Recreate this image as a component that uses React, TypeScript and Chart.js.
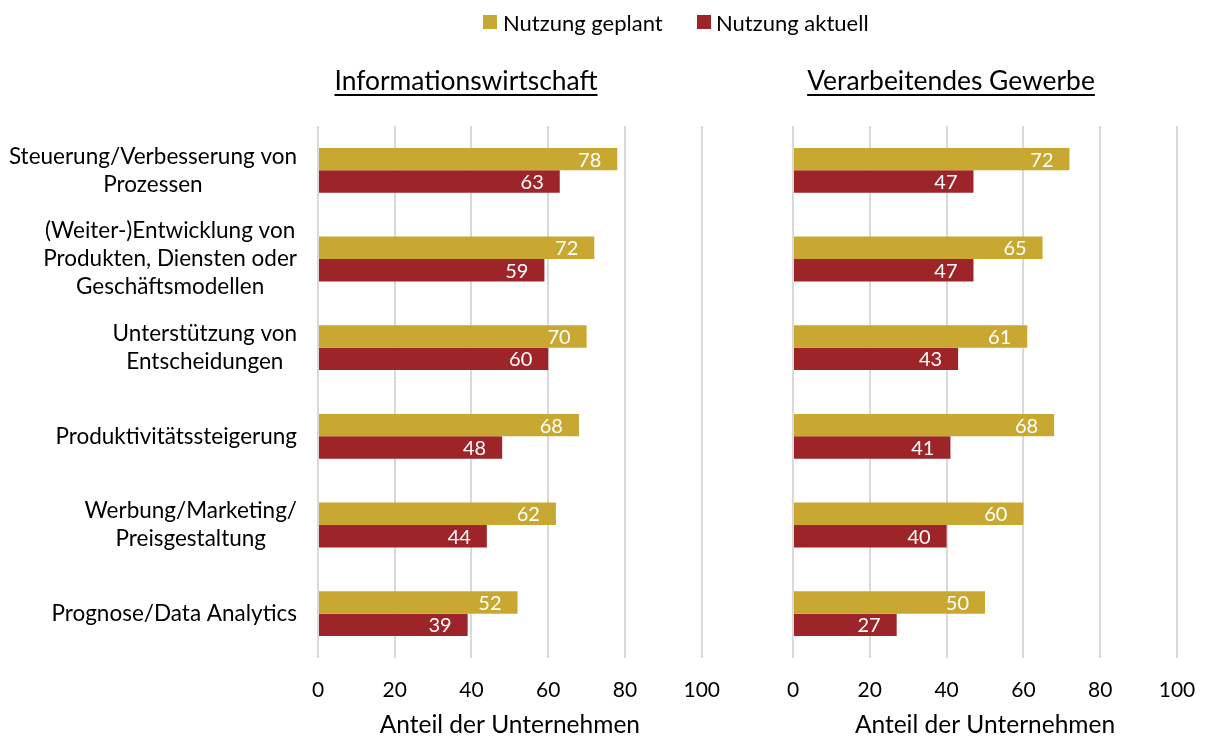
import React, { useEffect, useRef } from 'react';
import { Chart, registerables } from 'chart.js';
Chart.register(...registerables);

const categories: string[][] = [
  ['Steuerung/Verbesserung von', 'Prozessen'],
  ['(Weiter-)Entwicklung von', 'Produkten, Diensten oder', 'Geschäftsmodellen'],
  ['Unterstützung von', 'Entscheidungen'],
  ['Produktivitätssteigerung'],
  ['Werbung/Marketing/', 'Preisgestaltung'],
  ['Prognose/Data Analytics'],
];
const seriesNames = ['Nutzung geplant', 'Nutzung aktuell'];
const infoPlanned = [78, 72, 70, 68, 62, 52];
const infoCurrent = [63, 59, 60, 48, 44, 39];
const manuPlanned = [72, 65, 61, 68, 60, 50];
const manuCurrent = [47, 47, 43, 41, 40, 27];
const xMin = 0;
const xMax = 100;
const xStep = 20;
const panelTitles = ['Informationswirtschaft', 'Verarbeitendes Gewerbe'];
const axisTitle = 'Anteil der Unternehmen';

const COLORS = ['#C8A831', '#9D2428'];
const FONT = 'Lato, "Open Sans", sans-serif';

const valueLabels = {
  id: 'valueLabels',
  afterDatasetsDraw(chart: any) {
    const ctx = chart.ctx;
    ctx.save();
    ctx.font = `20px ${FONT}`;
    ctx.fillStyle = '#FFFFFF';
    ctx.textAlign = 'right';
    ctx.textBaseline = 'middle';
    chart.data.datasets.forEach((ds: any, di: number) => {
      const meta = chart.getDatasetMeta(di);
      meta.data.forEach((bar: any, i: number) => {
        ctx.fillText(String(ds.data[i]), bar.x - 16, bar.y + 1);
      });
    });
    ctx.restore();
  },
};

const categoryLabels = {
  id: 'categoryLabels',
  afterDraw(chart: any, _args: any, opts: any) {
    if (!opts || !opts.show) return;
    const ctx = chart.ctx;
    const yScale = chart.scales.y;
    ctx.save();
    ctx.font = `22.5px ${FONT}`;
    ctx.fillStyle = '#000000';
    ctx.textAlign = 'center';
    ctx.textBaseline = 'middle';
    const lh = 28;
    categories.forEach((lines, i) => {
      const yc = yScale.getPixelForValue(i);
      const maxW = Math.max(...lines.map((l) => ctx.measureText(l).width));
      const cx = opts.right - maxW / 2;
      const y0 = yc - ((lines.length - 1) * lh) / 2;
      lines.forEach((l, k) => ctx.fillText(l, cx, y0 + k * lh));
    });
    ctx.restore();
  },
};

function makeConfig(planned: number[], current: number[], yWidth: number, padRight: number, showCats: boolean): any {
  return {
    type: 'bar',
    data: {
      labels: categories.map((c) => c.join(' ')),
      datasets: [
        { label: seriesNames[0], data: planned, backgroundColor: COLORS[0], categoryPercentage: 0.505, barPercentage: 1 },
        { label: seriesNames[1], data: current, backgroundColor: COLORS[1], categoryPercentage: 0.505, barPercentage: 1 },
      ],
    },
    options: {
      indexAxis: 'y',
      responsive: false,
      animation: false,
      layout: { padding: { top: 126, right: padRight, bottom: 0, left: 0 } },
      plugins: {
        legend: { display: false },
        tooltip: { enabled: false },
        categoryLabels: { show: showCats, right: 297 },
      },
      scales: {
        x: {
          min: xMin,
          max: xMax,
          ticks: { stepSize: xStep, color: '#000', font: { family: FONT, size: 21 }, padding: 20 },
          grid: { color: '#D9D9D9', lineWidth: 2, drawTicks: false },
          border: { display: false },
          title: { display: true, text: axisTitle, color: '#000', font: { family: FONT, size: 24.5 }, padding: { top: 0, bottom: 0 } },
          afterFit: (s: any) => { s.height = 82; },
        },
        y: {
          grid: { display: false },
          border: { display: false },
          ticks: { display: false },
          afterFit: (s: any) => { s.width = yWidth; },
        },
      },
    },
    plugins: [valueLabels, categoryLabels],
  };
}

function Panel({ planned, current, left, width, yWidth, padRight, showCats }: any) {
  const ref = useRef<HTMLCanvasElement>(null);
  useEffect(() => {
    const chart = new Chart(ref.current as HTMLCanvasElement, makeConfig(planned, current, yWidth, padRight, showCats));
    return () => chart.destroy();
  }, []);
  return (
    <canvas ref={ref} width={width} height={740} style={{ position: 'absolute', left, top: 0, width, height: 740, display: 'block' }} />
  );
}

export default function App() {
  const textStyle: React.CSSProperties = { fontFamily: FONT, color: '#000', position: 'absolute', whiteSpace: 'nowrap' };
  return (
    <div style={{ position: 'absolute', left: 0, top: 0, width: 1206, height: 740, background: '#fff', overflow: 'hidden' }}>
      <Panel planned={infoPlanned} current={infoCurrent} left={0} width={740} yWidth={318} padRight={38} showCats={true} />
      <Panel planned={manuPlanned} current={manuCurrent} left={740} width={520} yWidth={53} padRight={83} showCats={false} />
      {seriesNames.map((name, i) => (
        <div key={name} style={{ ...textStyle, left: i === 0 ? 483 : 697, top: 8, height: 28, display: 'flex', alignItems: 'center', fontSize: 22 }}>
          <span style={{ display: 'inline-block', width: 14, height: 14, background: COLORS[i], marginRight: i === 0 ? 6 : 5 }} />
          <span>{name}</span>
        </div>
      ))}
      <div style={{ ...textStyle, left: 0, width: 932, top: 64, lineHeight: '32px', fontSize: 26.4, textAlign: 'center', textDecoration: 'underline', textUnderlineOffset: 4 }}>
        {panelTitles[0]}
      </div>
      <div style={{ ...textStyle, left: 751, width: 400, top: 64, lineHeight: '32px', fontSize: 26.4, textAlign: 'center', textDecoration: 'underline', textUnderlineOffset: 4 }}>
        {panelTitles[1]}
      </div>
    </div>
  );
}
